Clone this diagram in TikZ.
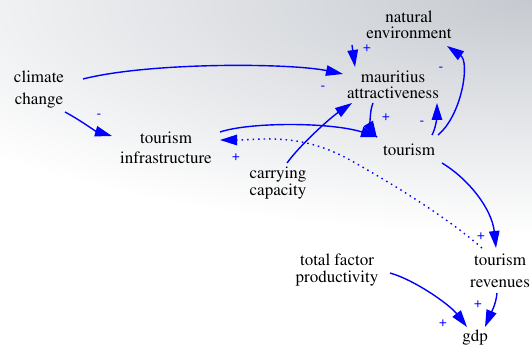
\documentclass[tikz,border=0pt]{standalone}
\usepackage[T1]{fontenc}
\usepackage{times}
\usetikzlibrary{arrows.meta}
\definecolor{bgdark}{RGB}{198,202,208}
\definecolor{linkblue}{RGB}{0,0,255}
\begin{document}
\begin{tikzpicture}[x=1pt,y=-1pt,
  var/.style={align=center, font=\rmfamily\fontsize{17}{16}\selectfont, inner sep=0pt, text=black},
  link/.style={draw=linkblue, line width=1.4pt, -{Triangle[length=17pt,width=10.5pt]}},
  dotlink/.style={link, dash pattern=on 1.5pt off 4pt},
  pol/.style={text=linkblue, font=\sffamily\fontsize{14}{14}\selectfont, inner sep=0pt}]
\useasboundingbox (0,0) rectangle (532,352);
\fill[white] (0,0) rectangle (532,352);
\begin{scope}
\clip (0,0) rectangle (532,352);
\shade[inner color=bgdark, outer color=white] (532,0) ellipse [x radius=720, y radius=235];
\end{scope}

\node[var] (ne) at (409,25) {natural\\environment};
\node[var] (ma) at (393,85) {mauritius\\attractiveness};
\node[var] (cc) at (39,90) {climate\\[6pt]change};
\node[var] (ti) at (166,148) {tourism\\[4pt]infrastructure};
\node[var] (to) at (409,150) {tourism};
\node[var] (ca) at (278,183) {carrying\\[1pt]capacity};
\node[var] (tfp) at (337,270) {total factor\\[1pt]productivity};
\node[var] (tr) at (500,271) {tourism\\[6pt]revenues};
\node[var] (gdp) at (475,338) {gdp};

\draw[link] ([shift={(44,-11)}]cc.center) .. controls +(67,-17) and +(-53,-11) .. ([shift={(-50,-11)}]ma.center);
\draw[link] ([shift={(26,22)}]cc.center) .. controls +(15,8) and +(-17,-5) .. ([shift={(-54,-12)}]ti.center);
\draw[link] ([shift={(-57,20)}]ne.center) -- ([shift={(-38,-18)}]ma.center);
\draw[link] ([shift={(-20,18)}]ma.center) .. controls +(-4,9) and +(-6,-10) .. ([shift={(-32,-12)}]to.center);
\draw[link] ([shift={(23,-15)}]to.center) .. controls +(4,-7) and +(0,12) .. ([shift={(44,18)}]ma.center);
\draw[link] ([shift={(29,-15)}]to.center) .. controls +(24,-20) and +(23,16) .. ([shift={(38,21)}]ne.center);
\draw[link] ([shift={(54,-16)}]ti.center) .. controls +(30,-10) and +(-48,-15) .. ([shift={(-31,-13)}]to.center);
\draw[link] ([shift={(9,-20)}]ca.center) .. controls +(13,-18) and +(-22,15) .. ([shift={(-41,18)}]ma.center);
\draw[dotlink] ([shift={(-18,-23)}]tr.center) .. controls +(-32,-28) and +(50,28) .. (350,160) .. controls +(-50,-28) and +(40,0) .. ([shift={(54,-8)}]ti.center);
\draw[link] ([shift={(33,13)}]to.center) .. controls +(28,17) and +(-4,-38) .. ([shift={(-4,-23)}]tr.center);
\draw[link] ([shift={(53,3)}]tfp.center) .. controls +(25,7) and +(-17,-22) .. ([shift={(-8,-11)}]gdp.center);
\draw[link] ([shift={(-3,22)}]tr.center) .. controls +(-1,12) and +(5,-12) .. ([shift={(10,-11)}]gdp.center);

\node[pol] (p1) at (99,116) {-};
\node[pol] (p2) at (323,88) {-};
\node[pol] (p3) at (367,48) {+};
\node[pol] (p4) at (386,117) {+};
\node[pol] (p5) at (422,123) {-};
\node[pol] (p6) at (441,69) {-};
\node[pol] (p7) at (236,157) {+};
\node[pol] (p8) at (481,236) {+};
\node[pol] (p9) at (443,323) {+};
\node[pol] (p10) at (478,304) {+};
\end{tikzpicture}
\end{document}
